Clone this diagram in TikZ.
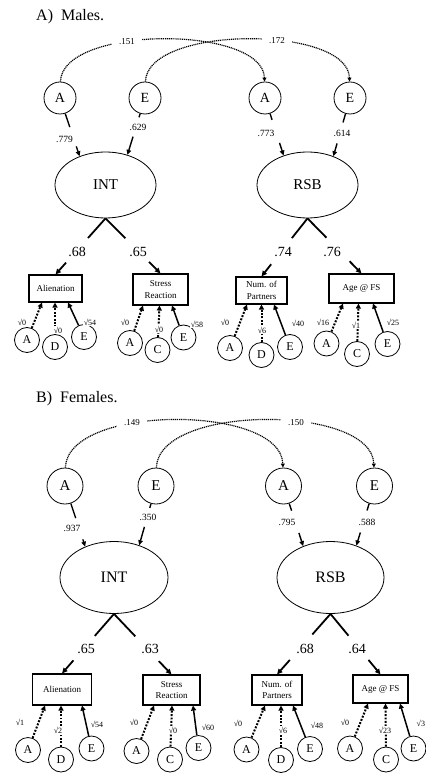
\documentclass[tikz,border=0pt]{standalone}
\usepackage{fontspec}
\setmainfont{Liberation Serif}
\usetikzlibrary{arrows.meta,shapes.geometric,calc}

\tikzset{
  ttl/.style={anchor=west, inner sep=0pt, font=\fontsize{16}{16}\selectfont},
  lat/.style={ellipse, draw, line width=0.8pt, inner sep=0pt, font=\fontsize{15}{15}\selectfont},
  topc/.style={circle, draw, line width=0.8pt, minimum size=32pt, inner sep=0pt, font=\fontsize{14}{14}\selectfont},
  topcb/.style={topc, minimum size=36pt, font=\fontsize{15}{15}\selectfont},
  resc/.style={circle, draw, line width=0.8pt, minimum size=25pt, inner sep=0pt, font=\fontsize{12}{12}\selectfont},
  ind/.style={rectangle, draw, line width=1.1pt, inner sep=0pt, align=center, font=\fontsize{9}{11.5}\selectfont},
  corr/.style={line width=1.2pt, dash pattern=on 1.1pt off 0.8pt, -{Triangle[length=4pt,width=3.8pt]}},
  cl/.style={fill=white, inner xsep=7pt, inner ysep=3pt, font=\fontsize{9}{9}\selectfont},
  ael/.style={line width=1.4pt},
  aea/.style={line width=1.4pt, -{Triangle[length=5pt,width=4.5pt]}},
  ll/.style={inner sep=1pt, font=\fontsize{9.5}{9.5}\selectfont},
  fl/.style={line width=1.8pt},
  fla/.style={line width=1.8pt, -{Triangle[length=5.5pt,width=5pt]}},
  fll/.style={inner sep=1pt, font=\fontsize{14}{14}\selectfont},
  dres/.style={line width=2pt, dash pattern=on 1.9pt off 1.5pt, -{Triangle[length=5pt,width=5pt]}},
  eres/.style={line width=1.5pt, -{Triangle[length=5pt,width=5pt]}},
  rl/.style={fill=white, inner sep=0.5pt, font=\fontsize{8}{8}\selectfont}
}

\begin{document}
\begin{tikzpicture}[x=1pt,y=-1pt]
\useasboundingbox[fill=white] (0,0) rectangle (425,775);

%% ---------------- Panel A: males ----------------
\node[ttl] (ttlA) at (36,17) {A)\ \ Males.};

% genetic / environmental factors
\node[topc] (mA1) at (60,98)  {A};
\node[topc] (mE1) at (145,98) {E};
\node[topc] (mA2) at (265,98) {A};
\node[topc] (mE2) at (350,98) {E};

% cross-trait correlations
\draw[corr] (mA1) .. controls (62,25) and (263,25) .. (mA2);
\draw[corr] (mE1) .. controls (147,25) and (348,25) .. (mE2);
\node[cl] (mc1) at (127,42) {.151};
\node[cl] (mc2) at (277,41) {.172};

% latent traits
\node[lat, minimum width=101pt, minimum height=66pt] (mINT) at (105.5,185) {INT};
\node[lat, minimum width=101pt, minimum height=66pt] (mRSB) at (307.5,185) {RSB};

% factor paths into the latent traits
\draw[ael] (mA1) -- ($(mA1)!0.50!(mINT.132)$);
\draw[aea] ($(mA1)!0.83!(mINT.132)$) -- (mINT.132);
\node[ll] at (64.5,139) {.779};
\draw[ael] (mE1) -- ($(mE1)!0.34!(mINT.54)$);
\draw[aea] ($(mE1)!0.68!(mINT.54)$) -- (mINT.54);
\node[ll] at (138,127) {.629};
\draw[ael] (mA2) -- ($(mA2)!0.38!(mRSB.129)$);
\draw[aea] ($(mA2)!0.78!(mRSB.129)$) -- (mRSB.129);
\node[ll] at (266,133) {.773};
\draw[ael] (mE2) -- ($(mE2)!0.42!(mRSB.48)$);
\draw[aea] ($(mE2)!0.78!(mRSB.48)$) -- (mRSB.48);
\node[ll] at (342,133) {.614};

% indicators
\node[ind, minimum width=53pt, minimum height=27pt] (mAl) at (55.5,288.5) {Alienation};
\node[ind, minimum width=55pt, minimum height=31pt] (mSt) at (160.5,289.5) {Stress\\Reaction};
\node[ind, minimum width=51pt, minimum height=27pt] (mNu) at (261.5,290.5) {Num. of\\Partners};
\node[ind, minimum width=65pt, minimum height=29pt] (mAg) at (361.5,288.5) {Age @ FS};

% factor loadings
\draw[fl] (mINT.south) -- ($(mINT.south)!0.35!(mAl.north)$);
\draw[fla] ($(mINT.south)!0.79!(mAl.north)$) -- (mAl.north);
\node[fll] at (77,252) {.68};
\draw[fl] (mINT.south) -- ($(mINT.south)!0.36!(mSt.north)$);
\draw[fla] ($(mINT.south)!0.79!(mSt.north)$) -- (mSt.north);
\node[fll] at (138,252) {.65};
\draw[fl] (mRSB.south) -- ($(mRSB.south)!0.34!(mNu.north)$);
\draw[fla] ($(mRSB.south)!0.79!(mNu.north)$) -- (mNu.north);
\node[fll] at (283,252) {.74};
\draw[fl] (mRSB.south) -- ($(mRSB.south)!0.35!(mAg.north)$);
\draw[fla] ($(mRSB.south)!0.78!(mAg.north)$) -- (mAg.north);
\node[fll] at (332,252) {.76};

% residual components
\node[resc] (mAlA) at (27,340)    {A};
\node[resc] (mAlD) at (55,347)    {D};
\node[resc] (mAlE) at (84,337)    {E};
\node[resc] (mStA) at (130,343)   {A};
\node[resc] (mStC) at (157.5,350) {C};
\node[resc] (mStE) at (183.5,337.5) {E};
\node[resc] (mNuA) at (230,348)   {A};
\node[resc] (mNuD) at (261.5,355) {D};
\node[resc] (mNuE) at (290,347)   {E};
\node[resc] (mAgA) at (326.5,343.5) {A};
\node[resc] (mAgC) at (357,354)   {C};
\node[resc] (mAgE) at (387.5,344) {E};

\draw[dres] (mAlA) -- ([xshift=-13.5pt]mAl.south);
\draw[dres] (mAlD) -- ([xshift=-0.5pt]mAl.south);
\draw[eres] (mAlE) -- ([xshift=12.5pt]mAl.south);
\draw[dres] (mStA) -- ([xshift=-17.5pt]mSt.south);
\draw[dres] (mStC) -- ([xshift=-1pt]mSt.south);
\draw[eres] (mStE) -- ([xshift=11.5pt]mSt.south);
\draw[dres] (mNuA) -- ([xshift=-14.5pt]mNu.south);
\draw[dres] (mNuD) -- (mNu.south);
\draw[eres] (mNuE) -- ([xshift=12.5pt]mNu.south);
\draw[dres] (mAgA) -- ([xshift=-18.5pt]mAg.south);
\draw[dres] (mAgC) -- ([xshift=-3pt]mAg.south);
\draw[eres] (mAgE) -- ([xshift=11.5pt]mAg.south);

\node[rl] at (22,322)  {√0};
\node[rl] at (58,330)  {√0};
\node[rl] at (90,322)  {√54};
\node[rl] at (125,322) {√0};
\node[rl] at (159,329) {√0};
\node[rl] at (197,324) {√58};
\node[rl] at (225,322) {√0};
\node[rl] at (262,330) {√6};
\node[rl] at (298,323) {√40};
\node[rl] at (323,322) {√16};
\node[rl] at (356,325) {√1};
\node[rl] at (393,322) {√25};

%% ---------------- Panel B: females ----------------
\node[ttl] (ttlB) at (36,399) {B)\ \ Females.};

\node[topcb] (fA1) at (65,486)    {A};
\node[topcb] (fE1) at (156,486)   {E};
\node[topcb] (fA2) at (283.5,486) {A};
\node[topcb] (fE2) at (374.5,486) {E};

\draw[corr] (fA1) .. controls (67,404) and (281,404) .. (fA2);
\draw[corr] (fE1) .. controls (158,404) and (372,404) .. (fE2);
\node[cl] (fc1) at (132,423) {.149};
\node[cl] (fc2) at (296,423) {.150};

\node[lat, minimum width=108pt, minimum height=72pt, font=\fontsize{16}{16}\selectfont] (fINT) at (114,577.5) {INT};
\node[lat, minimum width=107pt, minimum height=72pt, font=\fontsize{16}{16}\selectfont] (fRSB) at (330.5,577.5) {RSB};

\draw[ael] (fA1) -- ($(fA1)!0.53!(fINT.133)$);
\draw[aea] ($(fA1)!0.88!(fINT.133)$) -- (fINT.133);
\node[ll] at (72,528) {.937};
\draw[ael] (fE1) -- ($(fE1)!0.37!(fINT.52)$);
\draw[aea] ($(fE1)!0.69!(fINT.52)$) -- (fINT.52);
\node[ll] at (148,517) {.350};
\draw[ael] (fA2) -- ($(fA2)!0.41!(fRSB.131)$);
\draw[aea] ($(fA2)!0.78!(fRSB.131)$) -- (fRSB.131);
\node[ll] at (287,522) {.795};
\draw[ael] (fE2) -- ($(fE2)!0.41!(fRSB.51)$);
\draw[aea] ($(fE2)!0.78!(fRSB.51)$) -- (fRSB.51);
\node[ll] at (367,522) {.588};

\node[ind, minimum width=59pt, minimum height=31pt] (fAl) at (62,689.5)  {Alienation};
\node[ind, minimum width=57pt, minimum height=30pt] (fSt) at (171.5,690) {Stress\\Reaction};
\node[ind, minimum width=50pt, minimum height=30pt] (fNu) at (277,690)   {Num. of\\Partners};
\node[ind, minimum width=55pt, minimum height=28pt] (fAg) at (380.5,689) {Age @ FS};

\draw[fl] (fINT.south) -- ($(fINT.south)!0.37!(fAl.north)$);
\draw[fla] ($(fINT.south)!0.78!(fAl.north)$) -- (fAl.north);
\node[fll] at (86,649) {.65};
\draw[fl] (fINT.south) -- ($(fINT.south)!0.37!(fSt.north)$);
\draw[fla] ($(fINT.south)!0.78!(fSt.north)$) -- (fSt.north);
\node[fll] at (150,649) {.63};
\draw[fl] (fRSB.south) -- ($(fRSB.south)!0.34!(fNu.north)$);
\draw[fla] ($(fRSB.south)!0.76!(fNu.north)$) -- (fNu.north);
\node[fll] at (305,649) {.68};
\draw[fl] (fRSB.south) -- ($(fRSB.south)!0.36!(fAg.north)$);
\draw[fla] ($(fRSB.south)!0.76!(fAg.north)$) -- (fAg.north);
\node[fll] at (357,649) {.64};

\node[resc] (fAlA) at (28,750)     {A};
\node[resc] (fAlD) at (61,759.5)   {D};
\node[resc] (fAlE) at (91.5,748.5) {E};
\node[resc] (fStA) at (136.5,751)  {A};
\node[resc] (fStC) at (170,759.5)  {C};
\node[resc] (fStE) at (198.5,748)  {E};
\node[resc] (fNuA) at (246.5,749.5) {A};
\node[resc] (fNuD) at (281,760)    {D};
\node[resc] (fNuE) at (310,749)    {E};
\node[resc] (fAgA) at (350,748.5)  {A};
\node[resc] (fAgC) at (386,759.5)  {C};
\node[resc] (fAgE) at (413.5,748.5) {E};

\draw[dres] (fAlA) -- ([xshift=-17pt]fAl.south);
\draw[dres] (fAlD) -- ([xshift=-1pt]fAl.south);
\draw[eres] (fAlE) -- ([xshift=20pt]fAl.south);
\draw[dres] (fStA) -- ([xshift=-17.5pt]fSt.south);
\draw[dres] (fStC) -- ([xshift=0.5pt]fSt.south);
\draw[eres] (fStE) -- ([xshift=21.5pt]fSt.south);
\draw[dres] (fNuA) -- ([xshift=-12pt]fNu.south);
\draw[dres] (fNuD) -- ([xshift=4pt]fNu.south);
\draw[eres] (fNuE) -- ([xshift=16pt]fNu.south);
\draw[dres] (fAgA) -- ([xshift=-12.5pt]fAg.south);
\draw[dres] (fAgC) -- ([xshift=5pt]fAg.south);
\draw[eres] (fAgE) -- ([xshift=19.5pt]fAg.south);

\node[rl] at (20,722)  {√1};
\node[rl] at (58,730)  {√2};
\node[rl] at (97,724)  {√54};
\node[rl] at (134,722) {√0};
\node[rl] at (173,730) {√0};
\node[rl] at (208,727) {√60};
\node[rl] at (238,723) {√0};
\node[rl] at (283,730) {√6};
\node[rl] at (317,725) {√48};
\node[rl] at (345,722) {√0};
\node[rl] at (385,730) {√23};
\node[rl, anchor=west] at (416,723) {√3};
\end{tikzpicture}
\end{document}
